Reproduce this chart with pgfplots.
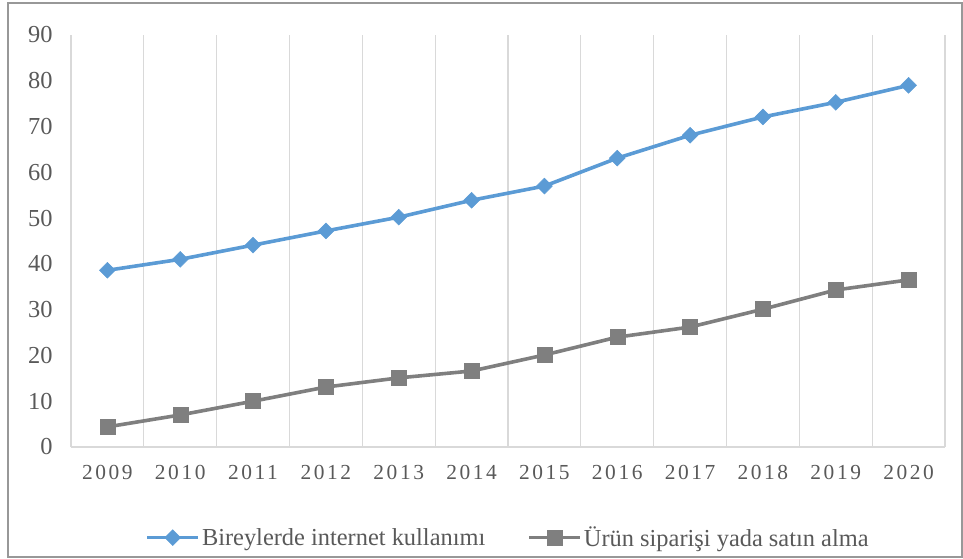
\documentclass[border=0pt]{standalone}
\usepackage{fontspec}
\setmainfont{Liberation Serif}
\usepackage{pgfplots}
\pgfplotsset{compat=1.18}
\definecolor{cBlue}{HTML}{5B9BD5}
\definecolor{cGray}{HTML}{7F7F7F}
\definecolor{cGrid}{HTML}{D9D9D9}
\definecolor{cText}{HTML}{595959}
\begin{document}
\begin{tikzpicture}
\begin{axis}[name=ax, scale only axis, width=874bp, height=412bp,
    xmin=-0.5, xmax=11.5, ymin=0, ymax=90,
    xtick={0,...,11},
    xticklabels={2009,2010,2011,2012,2013,2014,2015,2016,2017,2018,2019,2020},
    minor xtick={-0.5,0.5,...,11.5},
    xminorgrids, minor grid style={cGrid, line width=1.2bp},
    ytick={0,10,...,90},
    major tick length=0pt, minor tick length=0pt,
    axis x line*=bottom, axis y line*=left,
    x axis line style={cGrid, line width=1.2bp, -},
    y axis line style={draw=none},
    /pgf/number format/assume math mode=true,
    yticklabel style={font=\fontsize{24.5}{24.5}\selectfont, text=cText, xshift=-15bp},
    xticklabel style={font=\addfontfeature{LetterSpace=12}\fontsize{21.5}{21.5}\selectfont, text=cText, yshift=-15bp},
    legend style={at={(0.5,-0.22)}, anchor=center, draw=none, fill=none,
        font=\fontsize{24.5}{24.5}\selectfont, text=cText, legend columns=2,
        /tikz/every even column/.append style={column sep=40bp}},
    legend image code/.code={\draw[mark repeat=2,mark phase=2] plot coordinates {(0cm,0cm)(0.9cm,0cm)(1.8cm,0cm)};}]
\addplot[cBlue, line width=3.6bp, mark=square*, mark size=5.6bp, mark options={rotate=45, fill=cBlue, draw=cBlue, line width=0.5bp}]
  coordinates {(0,38.6)(1,41.0)(2,44.1)(3,47.2)(4,50.2)(5,53.9)(6,57.0)(7,63.1)(8,68.1)(9,72.1)(10,75.3)(11,79.0)};
\addlegendentry{Bireylerde internet kullanımı}
\addplot[cGray, line width=3.6bp, mark=square*, mark size=7.5bp, mark options={fill=cGray, draw=cGray, line width=0.5bp}]
  coordinates {(0,4.4)(1,7.0)(2,10.0)(3,13.1)(4,15.1)(5,16.6)(6,20.1)(7,24.0)(8,26.2)(9,30.1)(10,34.3)(11,36.5)};
\addlegendentry{Ürün siparişi yada satın alma}
\end{axis}
\draw[cGray!80, line width=1.2bp] ([shift={(-63bp,-110bp)}]ax.south west) rectangle ([shift={(891bp,444bp)}]ax.south west);
\path ([shift={(-71bp,-112bp)}]ax.south west) rectangle ([shift={(892bp,447bp)}]ax.south west);
\end{tikzpicture}
\end{document}
